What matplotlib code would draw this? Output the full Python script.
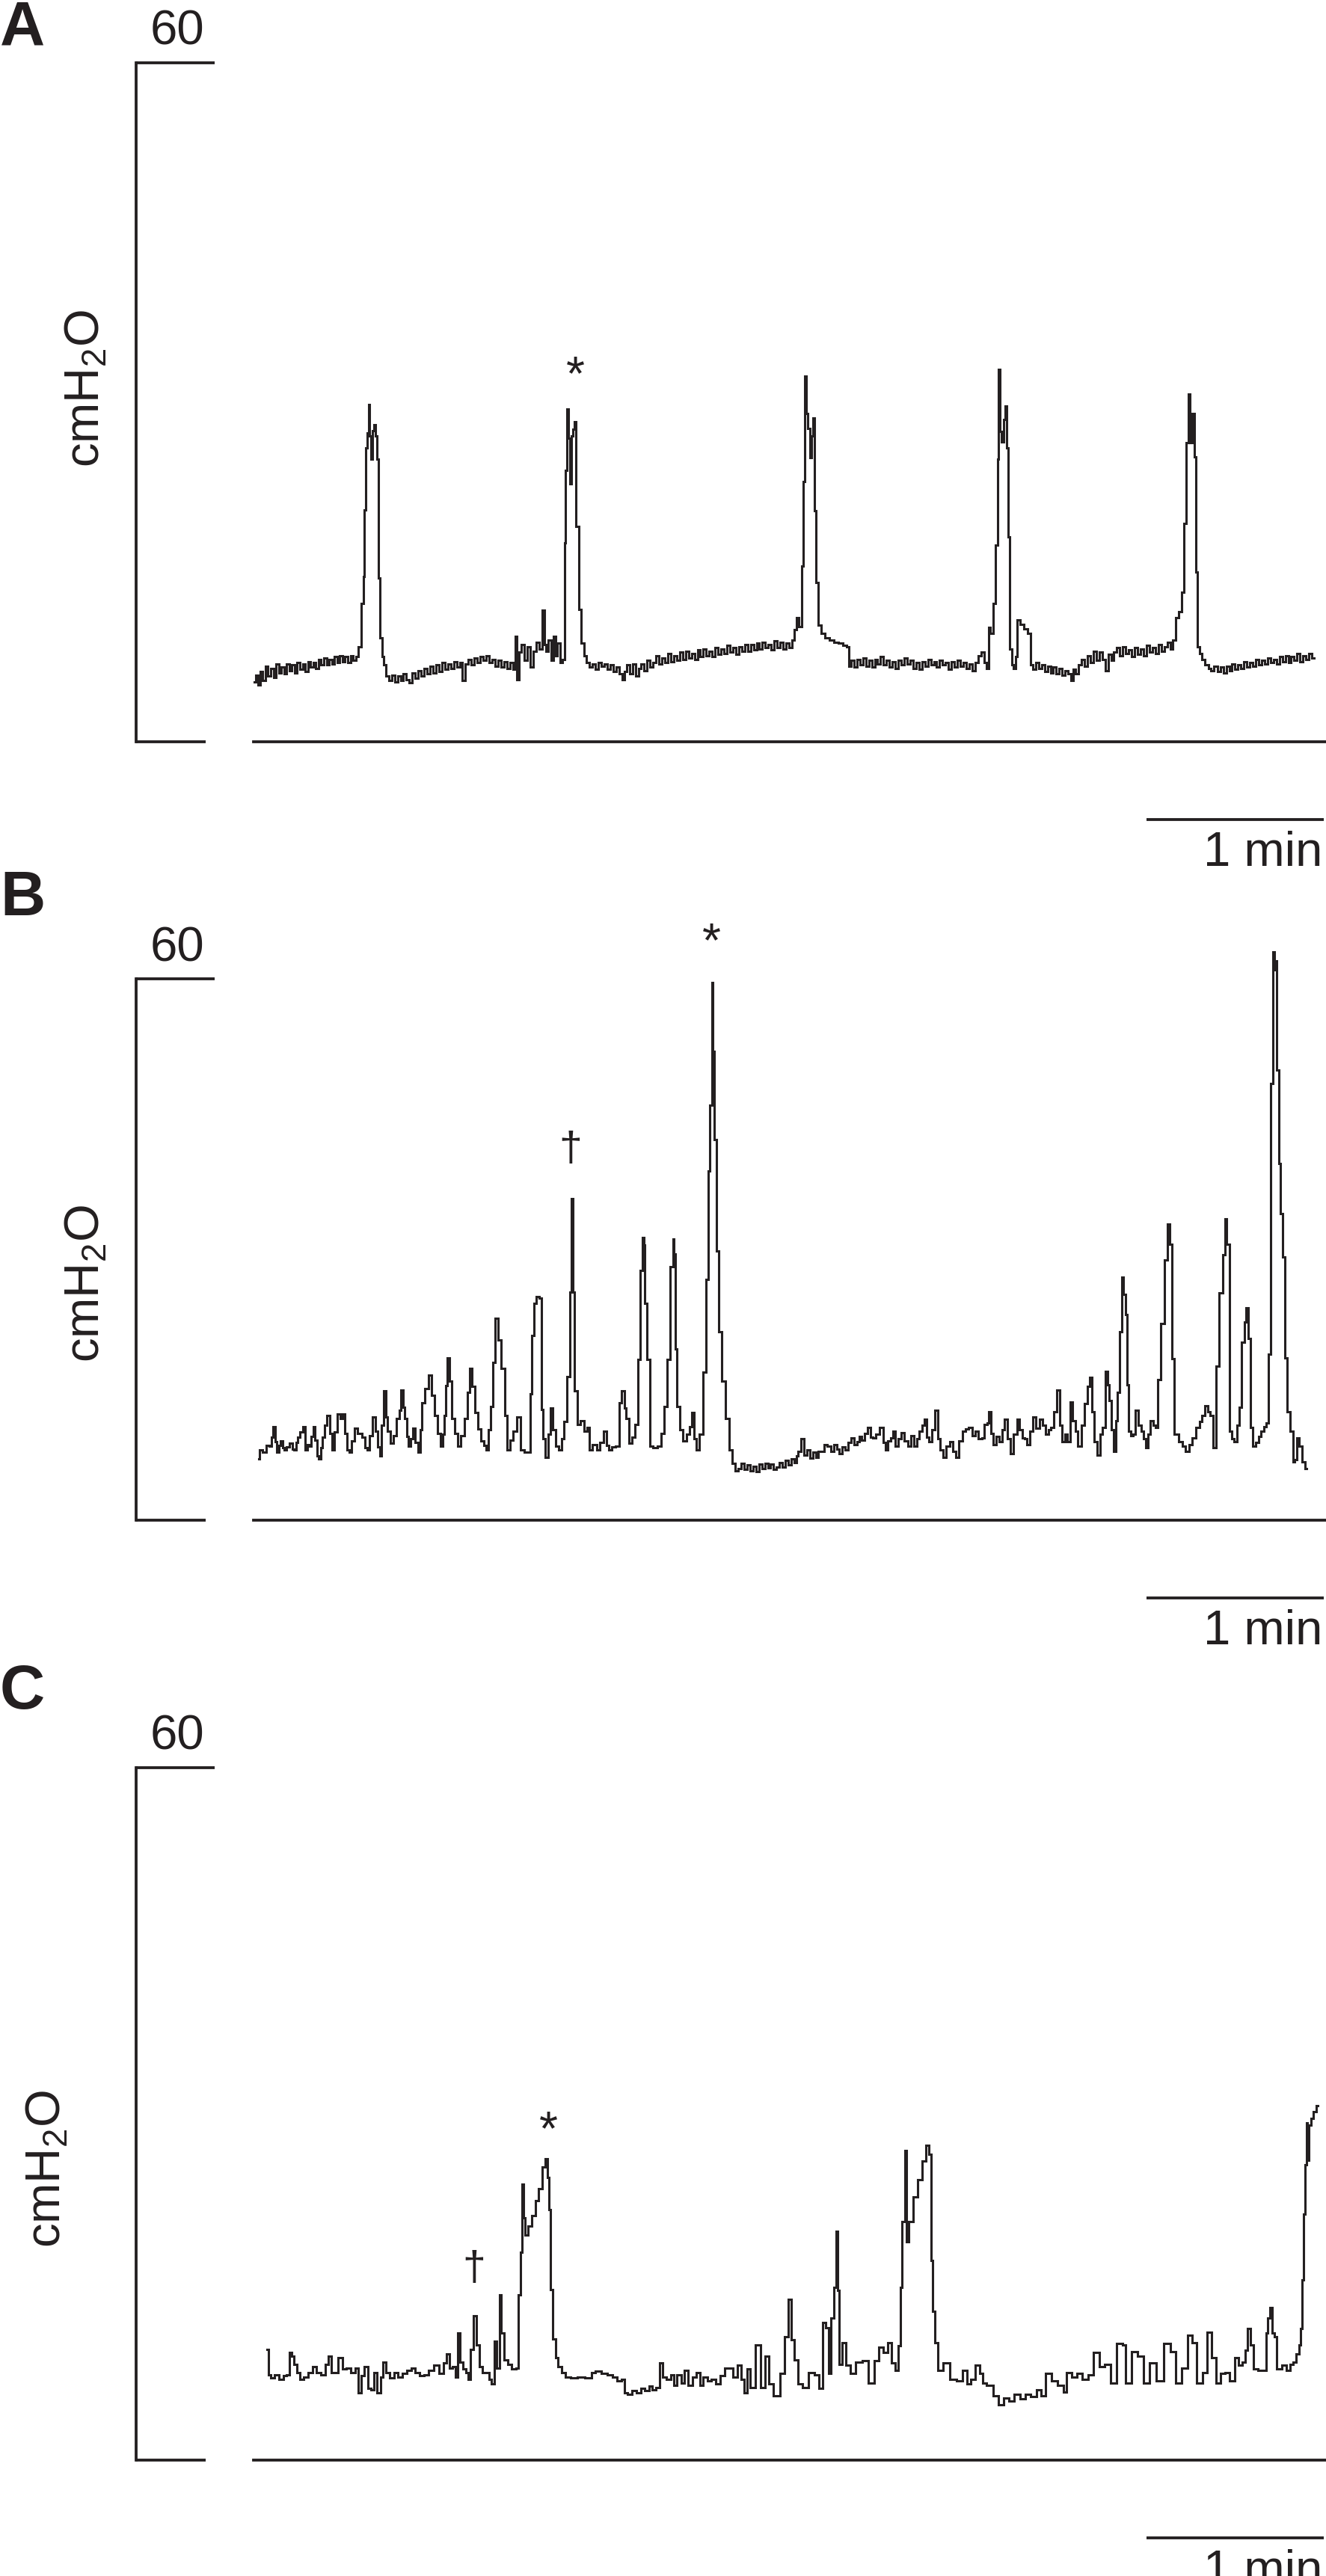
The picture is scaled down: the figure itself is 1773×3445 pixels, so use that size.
import matplotlib
matplotlib.use("Agg")
import matplotlib.pyplot as plt
from matplotlib import font_manager
from matplotlib.transforms import ScaledTranslation

# ------------------------------------------------------------------ data
panel_labels = ["A", "B", "C"]
scale_top_label = "60"
y_unit = "cmH$_2$O"
scale_bar_label = "1 min"
scale_max = 60        # cmH2O at the top of the bracket
scale_bar_len = 60    # seconds

# (time in s, pressure in cmH2O)
trace_a = [(0.0,5.3),(0.8,5.9),(1.6,5.0),(2.5,6.2),(3.3,5.4),(4.2,6.7),(5.0,5.8),(6.0,6.5),(7.0,5.7),(7.8,6.9),(8.7,6.1),(9.6,6.6),(10.5,6.0),(11.4,6.9),(12.3,6.3),(13.2,6.8),(14.1,6.1),(15.0,7.0),(15.9,6.4),(16.8,6.9),(17.7,6.2),(18.6,7.1),(19.5,6.6),(20.4,7.0),(21.3,6.5),(22.2,7.3),(23.1,6.8),(24.0,7.4),(24.9,6.8),(25.8,7.3),(26.7,6.9),(27.6,7.5),(28.5,7.0),(29.4,7.6),(30.3,7.1),(31.2,7.5),(32.1,7.0),(33.0,7.6),(33.9,7.2),(34.8,7.5),(35.7,8.4),(36.7,12.2),(37.1,14.6),(37.5,20.5),(38.0,26.0),(38.4,27.3),(38.9,29.8),(39.3,27.0),(39.7,25.0),(40.3,27.5),(40.8,28.0),(41.4,27.0),(41.8,25.0),(42.2,14.5),(42.9,9.2),(43.5,7.5),(44.0,6.8),(45.0,5.8),(46.0,5.4),(47.0,5.9),(48.0,5.3),(49.0,5.8),(50.0,5.4),(51.0,6.0),(52.0,5.5),(53.0,5.2),(54.0,6.1),(55.0,5.6),(56.0,6.3),(57.0,5.8),(58.0,6.5),(59.0,6.0),(60.0,6.7),(61.0,6.1),(62.0,6.8),(63.0,6.2),(64.0,7.0),(65.0,6.4),(66.0,6.9),(67.0,6.5),(68.0,7.1),(69.0,6.6),(70.0,7.0),(71.0,5.4),(71.8,6.9),(73.0,7.3),(74.0,6.8),(75.0,7.4),(76.0,7.0),(77.0,7.5),(78.0,7.2),(79.0,7.6),(80.0,7.0),(81.0,7.3),(82.0,6.7),(83.0,7.2),(84.0,6.6),(85.0,7.1),(86.0,6.5),(87.0,7.0),(88.0,6.4),(88.7,9.3),(89.2,5.5),(90.0,7.9),(91.0,8.6),(92.0,7.2),(93.0,8.4),(94.0,6.6),(95.0,8.0),(96.0,8.8),(97.0,8.2),(97.9,11.6),(98.5,8.6),(99.2,8.0),(100.0,9.0),(100.8,7.2),(101.5,9.3),(102.3,7.6),(103.0,8.7),(104.0,7.0),(104.8,7.3),(105.1,17.6),(105.7,24.0),(106.1,29.4),(106.5,26.8),(107.0,22.8),(107.5,27.0),(108.0,27.6),(108.6,28.3),(109.3,19.0),(110.2,11.7),(111.2,8.7),(112.0,7.6),(113.0,7.0),(114.0,6.6),(115.0,6.9),(116.0,6.4),(117.0,7.0),(118.0,6.7),(119.0,6.9),(120.0,6.4),(121.0,6.8),(122.0,6.2),(123.0,6.6),(124.0,6.0),(125.0,5.5),(125.8,6.2),(126.5,6.8),(127.5,6.0),(128.5,6.9),(129.5,5.8),(130.5,6.5),(131.5,6.9),(132.5,6.3),(133.5,7.2),(134.5,6.6),(135.5,7.0),(136.5,7.6),(137.5,6.9),(138.5,7.4),(139.5,7.0),(140.5,7.8),(141.5,7.1),(142.5,7.6),(143.5,7.2),(144.5,7.9),(145.5,7.3),(146.5,8.0),(147.5,7.4),(148.5,7.8),(149.5,7.3),(150.5,8.1),(151.5,7.5),(152.5,8.2),(153.5,7.6),(154.5,8.0),(155.5,7.5),(156.5,8.3),(157.5,7.7),(158.5,8.2),(159.5,7.8),(160.5,8.5),(161.5,7.9),(162.5,8.3),(163.5,7.7),(164.5,8.4),(165.5,8.0),(166.5,8.6),(167.5,8.0),(168.5,8.6),(169.5,8.1),(170.5,8.7),(171.5,8.2),(172.5,8.8),(173.5,8.3),(174.5,8.6),(175.5,8.1),(176.5,8.9),(177.5,8.3),(178.5,8.8),(179.5,8.2),(180.5,8.7),(181.5,8.3),(182.5,9.0),(183.1,9.9),(183.9,11.0),(184.8,10.2),(185.6,15.5),(186.2,23.0),(186.7,32.3),(187.2,29.0),(187.7,27.7),(188.3,25.1),(188.8,27.0),(189.3,28.6),(189.9,20.4),(190.4,14.1),(191.4,10.3),(192.5,9.6),(193.9,9.2),(195.5,9.0),(197.0,8.8),(198.5,8.7),(200.2,8.5),(201.0,8.4),(201.4,6.7),(202.5,7.2),(203.5,6.6),(204.5,7.3),(205.5,6.8),(206.5,7.4),(207.5,6.7),(208.5,7.2),(209.5,6.6),(210.5,7.3),(211.5,6.9),(212.5,7.5),(213.5,6.8),(214.5,7.2),(215.5,6.6),(216.5,7.1),(217.5,6.5),(218.5,7.2),(219.5,6.8),(220.5,7.4),(221.5,6.9),(222.5,7.2),(223.5,6.5),(224.5,7.0),(225.5,6.4),(226.5,7.1),(227.5,6.7),(228.5,7.3),(229.5,6.8),(230.5,7.1),(231.5,6.6),(232.5,7.2),(233.5,6.8),(234.5,7.0),(235.5,6.4),(236.5,7.1),(237.5,6.6),(238.5,7.2),(239.5,6.7),(240.5,7.0),(241.5,6.5),(242.5,6.9),(243.5,6.3),(244.5,7.0),(245.5,7.6),(246.5,7.9),(247.5,7.0),(248.3,6.5),(248.8,10.1),(249.6,9.6),(250.5,12.2),(251.3,17.4),(251.8,25.0),(252.2,32.9),(252.6,27.4),(253.2,26.5),(254.0,28.5),(254.5,29.7),(255.1,26.0),(255.5,18.1),(256.0,8.2),(256.7,6.8),(257.4,6.5),(258.0,7.5),(258.6,10.8),(259.8,10.4),(261.0,10.0),(262.6,9.6),(263.2,6.8),(264.0,6.4),(265.0,7.0),(266.0,6.5),(267.0,6.8),(268.0,6.2),(269.0,6.7),(270.0,6.1),(271.0,6.6),(272.0,6.0),(273.0,6.5),(274.0,5.9),(275.0,6.3),(276.0,6.0),(276.7,5.4),(277.5,6.4),(278.5,6.0),(279.5,6.8),(280.5,7.3),(281.5,6.7),(282.5,7.6),(283.5,7.0),(284.5,8.0),(285.5,7.2),(286.5,7.9),(287.5,7.3),(288.5,6.3),(289.5,7.7),(290.5,7.2),(291.5,7.9),(292.5,8.3),(293.5,7.6),(294.5,8.4),(295.5,7.8),(296.5,8.1),(297.5,7.5),(298.5,8.3),(299.5,7.7),(300.5,8.2),(301.5,7.6),(302.5,8.5),(303.5,7.9),(304.5,8.3),(305.5,7.8),(306.5,8.6),(307.5,8.0),(308.5,8.4),(309.5,8.8),(310.5,8.2),(311.5,9.0),(312.5,11.0),(313.5,11.5),(314.4,13.2),(315.1,19.3),(315.9,26.4),(316.4,30.7),(317.1,26.4),(317.9,29.0),(318.4,25.2),(319.0,15.0),(319.6,8.4),(320.4,7.8),(321.2,7.3),(322.5,6.8),(323.5,6.5),(324.3,6.3),(325.5,6.7),(326.5,6.2),(327.5,6.6),(328.5,6.1),(329.5,6.7),(330.5,6.3),(331.5,6.9),(332.5,6.4),(333.5,6.8),(334.5,6.5),(335.5,7.1),(336.5,6.6),(337.5,7.0),(338.5,6.7),(339.5,7.3),(340.5,6.8),(341.5,7.2),(342.5,6.9),(343.5,7.4),(344.5,7.0),(345.5,7.3),(346.5,6.9),(347.5,7.5),(348.5,7.1),(349.5,7.6),(350.5,7.0),(351.5,7.5),(352.5,7.2),(353.5,7.8),(354.5,7.1),(355.5,7.6),(356.5,7.3),(357.5,7.8),(358.7,7.4)]

trace_b = [(1.5,6.8),(2.1,7.8),(3.5,7.5),(4.5,8.3),(5.4,8.2),(6.1,9.2),(6.7,10.4),(7.4,8.7),(8.0,7.5),(8.6,8.3),(9.2,8.8),(9.9,8.0),(10.5,7.8),(11.5,8.1),(12.5,8.5),(13.2,7.9),(13.8,7.8),(14.5,8.6),(15.1,9.2),(16.0,9.8),(16.7,10.4),(17.6,7.8),(18.3,8.4),(19.0,8.2),(19.6,9.3),(20.2,10.4),(20.9,8.9),(21.5,7.1),(22.2,6.8),(22.8,8.0),(23.5,9.2),(24.2,10.5),(25.0,11.6),(25.9,9.6),(26.7,7.8),(27.6,9.8),(28.6,11.8),(29.4,11.3),(30.2,11.8),(31.0,9.6),(31.9,7.8),(32.5,7.5),(33.5,8.8),(34.4,10.2),(35.7,9.6),(37.0,9.2),(38.0,8.0),(38.7,7.8),(39.5,9.4),(40.3,11.4),(41.5,9.9),(42.2,8.1),(42.8,7.1),(43.5,10.5),(44.1,14.3),(44.8,11.4),(45.4,9.9),(46.7,8.5),(47.7,9.4),(48.7,11.25),(49.4,12.2),(50.0,14.4),(50.6,12.5),(51.2,11.25),(51.9,9.3),(52.5,8.2),(53.3,9.0),(54.1,10.2),(55.0,8.6),(55.8,7.5),(56.5,10.0),(57.1,13.0),(58.3,14.6),(59.6,16.1),(60.6,13.8),(61.6,11.6),(62.5,9.6),(63.5,8.2),(64.0,9.5),(64.5,11.6),(65.0,14.9),(65.5,17.95),(66.4,15.4),(67.4,11.25),(68.3,9.6),(69.3,8.2),(70.6,9.4),(71.9,11.25),(72.6,14.2),(73.2,16.8),(74.1,14.8),(75.1,11.9),(76.1,10.1),(77.1,8.8),(78.1,8.3),(79.0,7.8),(79.6,10.0),(80.3,12.6),(81.2,17.5),(82.0,22.4),(83.0,20.0),(84.2,16.8),(85.2,11.6),(86.1,7.8),(87.1,8.9),(88.1,9.9),(89.4,11.4),(90.6,7.8),(92.0,7.5),(93.2,7.5),(93.8,14.0),(94.3,20.5),(95.0,24.0),(95.8,24.8),(96.9,24.65),(97.4,12.3),(98.2,9.0),(99.0,7.0),(99.8,9.5),(100.6,12.45),(101.5,10.0),(102.3,8.2),(103.6,7.8),(104.4,9.0),(105.2,10.9),(106.4,15.9),(107.1,25.3),(107.7,35.65),(108.1,25.3),(108.7,14.3),(110.0,10.6),(111.0,11.0),(112.3,9.9),(113.1,10.3),(113.9,7.8),(115.2,8.4),(116.5,7.8),(117.6,8.6),(118.8,9.9),(119.6,8.3),(120.4,7.8),(121.7,8.1),(123.0,8.2),(123.9,13.0),(124.9,14.3),(125.5,12.4),(126.2,11.25),(127.5,8.5),(128.4,9.2),(129.4,10.6),(130.3,17.8),(131.1,27.7),(131.6,31.35),(132.0,30.5),(132.4,24.0),(133.3,17.8),(134.3,8.2),(135.7,8.0),(137.2,8.2),(138.2,9.6),(139.1,12.6),(140.4,17.8),(141.3,28.1),(142.0,31.2),(142.3,29.5),(142.7,19.0),(143.6,12.6),(144.6,10.0),(145.6,8.8),(146.9,9.5),(147.7,10.4),(148.5,11.9),(149.3,9.0),(150.1,7.8),(151.4,9.5),(152.4,16.4),(153.3,26.7),(154.0,38.7),(154.6,46.0),(155.1,59.6),(155.5,52.0),(155.9,42.2),(156.8,29.8),(157.8,20.9),(158.9,15.4),(160.2,11.25),(161.1,7.8),(162.4,6.3),(163.3,5.5),(164.3,5.75),(165.3,6.3),(166.3,5.6),(167.3,6.1),(168.3,5.5),(169.3,6.0),(170.3,5.4),(171.3,6.2),(172.3,5.7),(173.3,6.3),(174.3,5.8),(175.3,6.2),(176.3,5.6),(177.2,5.9),(178.2,6.4),(179.2,5.9),(180.2,6.6),(181.2,6.1),(182.2,6.8),(183.2,6.4),(183.7,7.1),(184.6,7.6),(185.6,9.0),(186.5,7.2),(187.5,7.8),(188.5,6.9),(189.5,7.5),(190.5,7.0),(191.5,7.6),(192.4,7.6),(193.5,8.4),(194.6,8.2),(195.6,7.6),(196.7,8.4),(197.5,7.9),(198.4,7.4),(199.5,8.1),(200.6,7.8),(201.6,8.6),(202.7,9.1),(203.5,8.4),(204.4,8.7),(205.2,9.3),(206.0,8.9),(207.1,9.6),(208.2,10.3),(209.0,9.2),(209.8,9.1),(211.0,9.5),(212.5,10.3),(213.3,8.6),(214.1,7.8),(215.0,8.8),(215.8,9.1),(216.6,9.9),(217.4,8.2),(218.5,9.0),(219.6,9.7),(220.6,8.8),(221.7,8.2),(222.8,9.4),(223.9,8.2),(224.7,9.0),(225.6,9.9),(226.4,10.5),(227.2,11.2),(228.0,9.2),(228.8,8.7),(229.9,10.0),(231.0,12.2),(231.8,9.0),(232.6,7.8),(233.7,7.0),(234.8,8.2),(235.9,8.7),(237.0,7.6),(238.1,7.0),(239.1,8.8),(240.2,9.9),(241.3,10.1),(242.4,10.3),(243.5,9.4),(244.6,9.9),(245.7,9.0),(246.8,9.1),(247.6,10.6),(248.4,10.8),(248.9,12.0),(249.7,9.6),(250.6,8.4),(251.6,9.3),(252.7,8.7),(253.5,10.0),(254.4,11.2),(255.4,9.0),(256.5,7.4),(257.6,9.5),(258.7,11.2),(259.5,10.0),(260.3,9.1),(261.1,9.0),(262.0,8.4),(263.0,9.9),(264.1,11.4),(265.2,10.2),(266.3,11.2),(267.4,10.5),(268.5,9.5),(269.3,10.0),(270.1,10.3),(271.2,12.0),(272.3,14.4),(273.1,10.5),(273.9,8.7),(274.8,9.5),(275.6,8.7),(276.6,13.1),(277.5,11.0),(278.3,9.9),(279.4,8.2),(280.5,10.5),(281.5,12.9),(282.4,14.8),(283.2,15.8),(283.9,12.0),(284.6,8.7),(285.9,7.2),(286.7,9.5),(287.5,10.3),(288.6,16.5),(289.2,15.0),(289.7,13.3),(290.5,10.0),(291.3,7.6),(292.0,11.0),(292.4,14.2),(293.3,20.9),(294.0,26.9),(294.6,25.0),(295.1,22.8),(295.7,15.0),(296.2,9.9),(297.0,9.4),(297.8,9.5),(298.9,12.2),(299.8,10.5),(300.6,9.9),(301.4,9.0),(302.2,8.0),(303.0,9.5),(303.8,11.0),(304.6,10.5),(305.4,10.3),(306.3,15.6),(307.6,21.8),(308.5,28.8),(309.6,32.8),(310.3,30.6),(310.9,17.9),(312.0,9.5),(313.6,8.7),(314.7,8.2),(315.8,7.6),(317.0,8.4),(318.0,9.1),(319.6,10.3),(320.4,10.9),(321.2,11.6),(322.3,12.7),(323.1,12.0),(323.9,11.6),(325.0,8.0),(325.9,17.1),(327.2,25.2),(328.3,29.4),(328.8,33.4),(329.6,30.6),(330.4,9.9),(331.3,9.0),(332.1,8.7),(333.0,10.5),(333.7,12.5),(334.8,19.7),(335.5,22.0),(336.1,23.5),(336.8,20.1),(337.5,10.3),(338.6,8.2),(339.5,8.6),(340.4,9.3),(341.3,9.9),(342.2,10.4),(343.0,10.8),(343.7,18.4),(344.4,48.4),(345.1,63.0),(345.5,61.0),(345.9,62.0),(346.5,49.9),(347.0,39.5),(347.7,34.0),(348.4,29.2),(349.1,18.0),(350.2,12.0),(351.1,9.9),(352.0,6.5),(352.5,6.7),(353.1,9.1),(354.4,8.2),(355.2,6.5),(356.3,5.7)]

trace_c = [(4.4,9.6),(5.0,7.4),(6.0,7.1),(7.5,7.4),(9.0,7.0),(10.5,7.3),(11.5,7.4),(12.4,9.3),(13.1,9.0),(13.8,8.3),(14.9,7.6),(16.0,7.0),(17.5,7.2),(18.9,7.6),(20.4,8.1),(21.8,7.6),(23.3,7.4),(24.7,8.3),(25.5,9.0),(26.5,7.6),(27.6,7.6),(29.1,8.9),(30.5,7.9),(32.0,8.0),(33.5,7.6),(34.9,8.0),(35.6,5.8),(36.7,7.3),(37.8,8.1),(39.0,6.2),(40.0,6.1),(41.0,7.6),(42.2,5.8),(43.2,7.2),(43.9,8.5),(45.1,7.6),(46.5,7.1),(48.0,7.6),(49.4,7.2),(50.9,7.5),(52.3,7.8),(53.8,8.0),(55.3,7.6),(56.7,7.3),(58.2,7.4),(59.6,7.8),(61.8,8.2),(63.2,7.5),(64.7,8.4),(65.4,9.2),(66.6,8.0),(67.6,8.1),(68.5,7.2),(69.1,11.0),(70.1,8.5),(71.2,7.9),(72.0,7.6),(72.7,7.0),(73.7,9.6),(74.6,12.5),(75.6,10.0),(76.6,8.1),(77.8,7.6),(79.2,7.6),(80.0,7.0),(80.7,6.6),(81.7,10.3),(82.6,8.0),(83.3,14.3),(84.0,11.0),(85.0,8.7),(86.5,8.3),(87.9,7.9),(89.1,8.0),(89.8,14.3),(90.6,18.0),(90.9,23.9),(91.3,21.0),(92.0,19.5),(93.3,20.3),(94.5,21.2),(95.7,22.5),(96.7,23.5),(98.1,25.4),(99.1,26.1),(99.6,24.5),(99.9,21.7),(100.6,14.8),(101.5,10.5),(102.5,8.9),(103.2,8.1),(104.7,7.6),(106.1,7.2),(108.3,7.1),(110.5,7.2),(113.4,7.1),(114.8,7.6),(116.3,7.7),(118.5,7.5),(120.6,7.4),(122.1,7.2),(123.5,6.9),(125.0,7.0),(125.7,5.8),(127.2,5.7),(128.6,6.0),(130.1,5.8),(131.5,6.2),(133.0,6.0),(134.4,6.4),(135.2,6.1),(136.6,6.3),(137.8,8.4),(138.8,7.2),(140.3,7.0),(141.7,7.4),(142.4,6.5),(143.9,7.4),(145.0,6.7),(146.1,7.8),(147.5,6.5),(149.0,7.2),(150.4,7.6),(151.4,6.5),(152.6,7.2),(154.1,6.9),(155.5,7.0),(157.0,6.6),(158.4,7.3),(160.2,8.0),(161.3,8.0),(162.8,7.2),(164.2,8.2),(165.2,7.0),(166.4,5.8),(167.1,7.9),(168.5,6.3),(170.8,10.0),(172.1,6.3),(173.6,9.0),(174.6,6.6),(176.8,5.6),(179.0,7.5),(180.2,10.7),(181.2,13.9),(182.1,10.4),(183.3,8.7),(184.6,6.6),(186.4,6.3),(189.0,7.6),(190.2,7.4),(192.1,6.2),(192.7,11.9),(194.0,11.5),(194.8,7.5),(195.6,12.3),(196.8,15.0),(197.1,19.8),(197.8,14.7),(198.3,8.3),(199.8,10.2),(200.8,8.2),(202.7,7.5),(204.5,8.5),(207.0,8.6),(208.9,6.7),(210.8,8.6),(212.0,9.8),(213.9,9.3),(215.1,10.2),(216.4,8.4),(217.6,7.8),(218.5,9.9),(218.9,15.0),(219.8,20.7),(220.5,26.8),(221.0,18.9),(222.0,20.7),(223.9,22.8),(225.1,24.3),(226.8,25.9),(228.0,27.3),(228.9,26.5),(229.5,17.3),(229.9,12.9),(230.8,10.2),(232.0,7.8),(234.5,8.4),(236.4,7.0),(238.9,6.9),(240.7,7.8),(242.0,6.6),(243.2,7.0),(245.1,8.2),(246.0,7.5),(247.0,6.7),(248.8,6.5),(249.5,6.5),(251.0,5.6),(252.6,4.8),(254.5,5.4),(256.3,5.1),(258.2,5.7),(260.1,5.3),(262.0,5.7),(263.8,5.5),(265.7,6.1),(267.0,5.6),(268.8,7.5),(270.7,6.9),(273.2,6.5),(274.4,5.9),(275.7,7.6),(277.5,7.2),(279.4,7.5),(281.3,7.0),(283.2,7.4),(285.0,9.3),(286.9,8.1),(288.8,8.3),(290.7,6.7),(293.2,10.1),(294.4,10.0),(295.6,6.7),(298.1,9.4),(300.0,9.0),(301.9,6.7),(304.4,8.4),(306.3,6.9),(309.4,10.1),(310.6,9.4),(313.1,6.7),(315.0,8.0),(316.9,10.8),(318.1,10.2),(320.0,6.7),(321.9,7.6),(323.1,11.1),(325.0,8.9),(326.2,6.7),(328.1,7.5),(329.3,7.6),(331.2,6.9),(332.5,8.9),(333.7,8.2),(335.0,8.5),(335.8,9.5),(336.8,11.4),(337.8,10.0),(338.7,7.9),(340.6,7.8),(342.4,7.8),(342.8,11.0),(343.3,12.3),(344.1,13.2),(345.0,11.0),(345.6,10.7),(346.8,7.9),(348.7,8.2),(349.9,7.8),(351.2,8.3),(352.1,8.5),(353.1,9.2),(354.0,10.0),(354.3,11.4),(354.9,15.6),(355.6,21.3),(356.0,25.6),(356.2,29.2),(356.6,26.0),(357.1,29.0),(358.1,29.6),(359.1,30.2),(359.9,30.7)]

# event marks: (symbol, time s, baseline height cmH2O)
marks_a = [("*", 108.6, 31.1)]
marks_b = [("\u2020", 107.1, 39.9), ("*", 154.7, 62.5)]
marks_c = [("\u2020", 74.4, 15.6), ("*", 99.5, 27.3)]

# ------------------------------------------------------------------ style / layout
W, H, DPI = 1773, 3445, 100
INK = "#231f20"
PT = 72.0 / DPI                     # points per pixel

names = {f.name for f in font_manager.fontManager.ttflist}
BASE = "Liberation Sans" if "Liberation Sans" in names else "DejaVu Sans"
NARROW = "Liberation Sans Narrow" if "Liberation Sans Narrow" in names else BASE

plt.rcParams["font.family"] = [BASE, "DejaVu Sans"]
plt.rcParams["mathtext.fontset"] = "custom"
plt.rcParams["mathtext.rm"] = BASE
plt.rcParams["mathtext.it"] = BASE
plt.rcParams["mathtext.default"] = "regular"

X0_PX = 340.0          # pixel of t = 0
PX_PER_S = 3.95
LEFT_PX, RIGHT_PX = 182.0, 1772.0
def t_of(px):
    return (px - X0_PX) / PX_PER_S

panel_geo = [
    # top(60) px, bottom(0) px, label baseline, "60" baseline, unit label centre
    dict(top=84,   bottom=992,  lab=60,   num=60,   ux=116, uy=519),
    dict(top=1309, bottom=2033, lab=1224, num=1285, ux=116, uy=1716),
    dict(top=2364, bottom=3290, lab=2285, num=2340, ux=64,  uy=2900),
]
traces = [trace_a, trace_b, trace_c]
marks = [marks_a, marks_b, marks_c]

fig = plt.figure(figsize=(W / DPI, H / DPI), dpi=DPI)
fig.patch.set_facecolor("white")

AX_LW = 3.8 * PT
TEXT_FS = 47

for lab, geo, tr, mk in zip(panel_labels, panel_geo, traces, marks):
    ax = fig.add_axes([LEFT_PX / W, 1 - geo["bottom"] / H,
                       (RIGHT_PX - LEFT_PX) / W, (geo["bottom"] - geo["top"]) / H])
    ax.set_xlim(t_of(LEFT_PX), t_of(RIGHT_PX))
    ax.set_ylim(0, scale_max)
    ax.patch.set_alpha(0)
    for s in ("top", "right"):
        ax.spines[s].set_visible(False)
    ax.spines["left"].set_bounds(0, scale_max)
    ax.spines["bottom"].set_bounds(t_of(339), t_of(RIGHT_PX))
    for s in ("left", "bottom"):
        ax.spines[s].set_linewidth(AX_LW)
        ax.spines[s].set_color(INK)
    ax.set_xticks([])
    ax.set_yticks([scale_max])
    ax.set_yticks([0], minor=True)
    ax.tick_params(axis="y", which="major", direction="in", length=105 * PT,
                   width=AX_LW, color=INK, labelleft=False)
    ax.tick_params(axis="y", which="minor", direction="in", length=93 * PT,
                   width=AX_LW, color=INK, labelleft=False)

    t = [p[0] for p in tr]
    v = [p[1] for p in tr]
    ax.plot(t, v, color=INK, lw=2.2, clip_on=False, drawstyle="steps-mid",
            solid_joinstyle="miter")

    for sym, tm, yv in mk:
        fs = 46 if sym == "*" else 40
        ax.text(tm, yv, sym, ha="center", va="baseline", fontsize=fs, color=INK)

    # 1 min scale bar below the trace
    xr = t_of(1770)
    bar_tr = ax.get_xaxis_transform() + ScaledTranslation(0, -104 / DPI, fig.dpi_scale_trans)
    ax.plot([xr - scale_bar_len, xr], [0, 0], transform=bar_tr, color=INK,
            lw=AX_LW, solid_capstyle="butt", clip_on=False)
    txt_tr = ax.get_xaxis_transform() + ScaledTranslation(0, -166 / DPI, fig.dpi_scale_trans)
    ax.text(t_of(1768), 0, scale_bar_label, transform=txt_tr, ha="right",
            va="baseline", fontsize=TEXT_FS, color=INK)

    # texts in figure pixels
    fig.text(0 / W, 1 - geo["lab"] / H, lab, ha="left", va="baseline",
             fontsize=60, fontweight="bold", family=[NARROW, BASE], color=INK)
    fig.text(236.5 / W, 1 - geo["num"] / H, scale_top_label, ha="center",
             va="baseline", fontsize=TEXT_FS, color=INK)
    fig.text(geo["ux"] / W, 1 - geo["uy"] / H, y_unit, rotation=90, ha="center",
             va="center", fontsize=TEXT_FS, color=INK)

fig.savefig("out.png", dpi=DPI, facecolor="white")
